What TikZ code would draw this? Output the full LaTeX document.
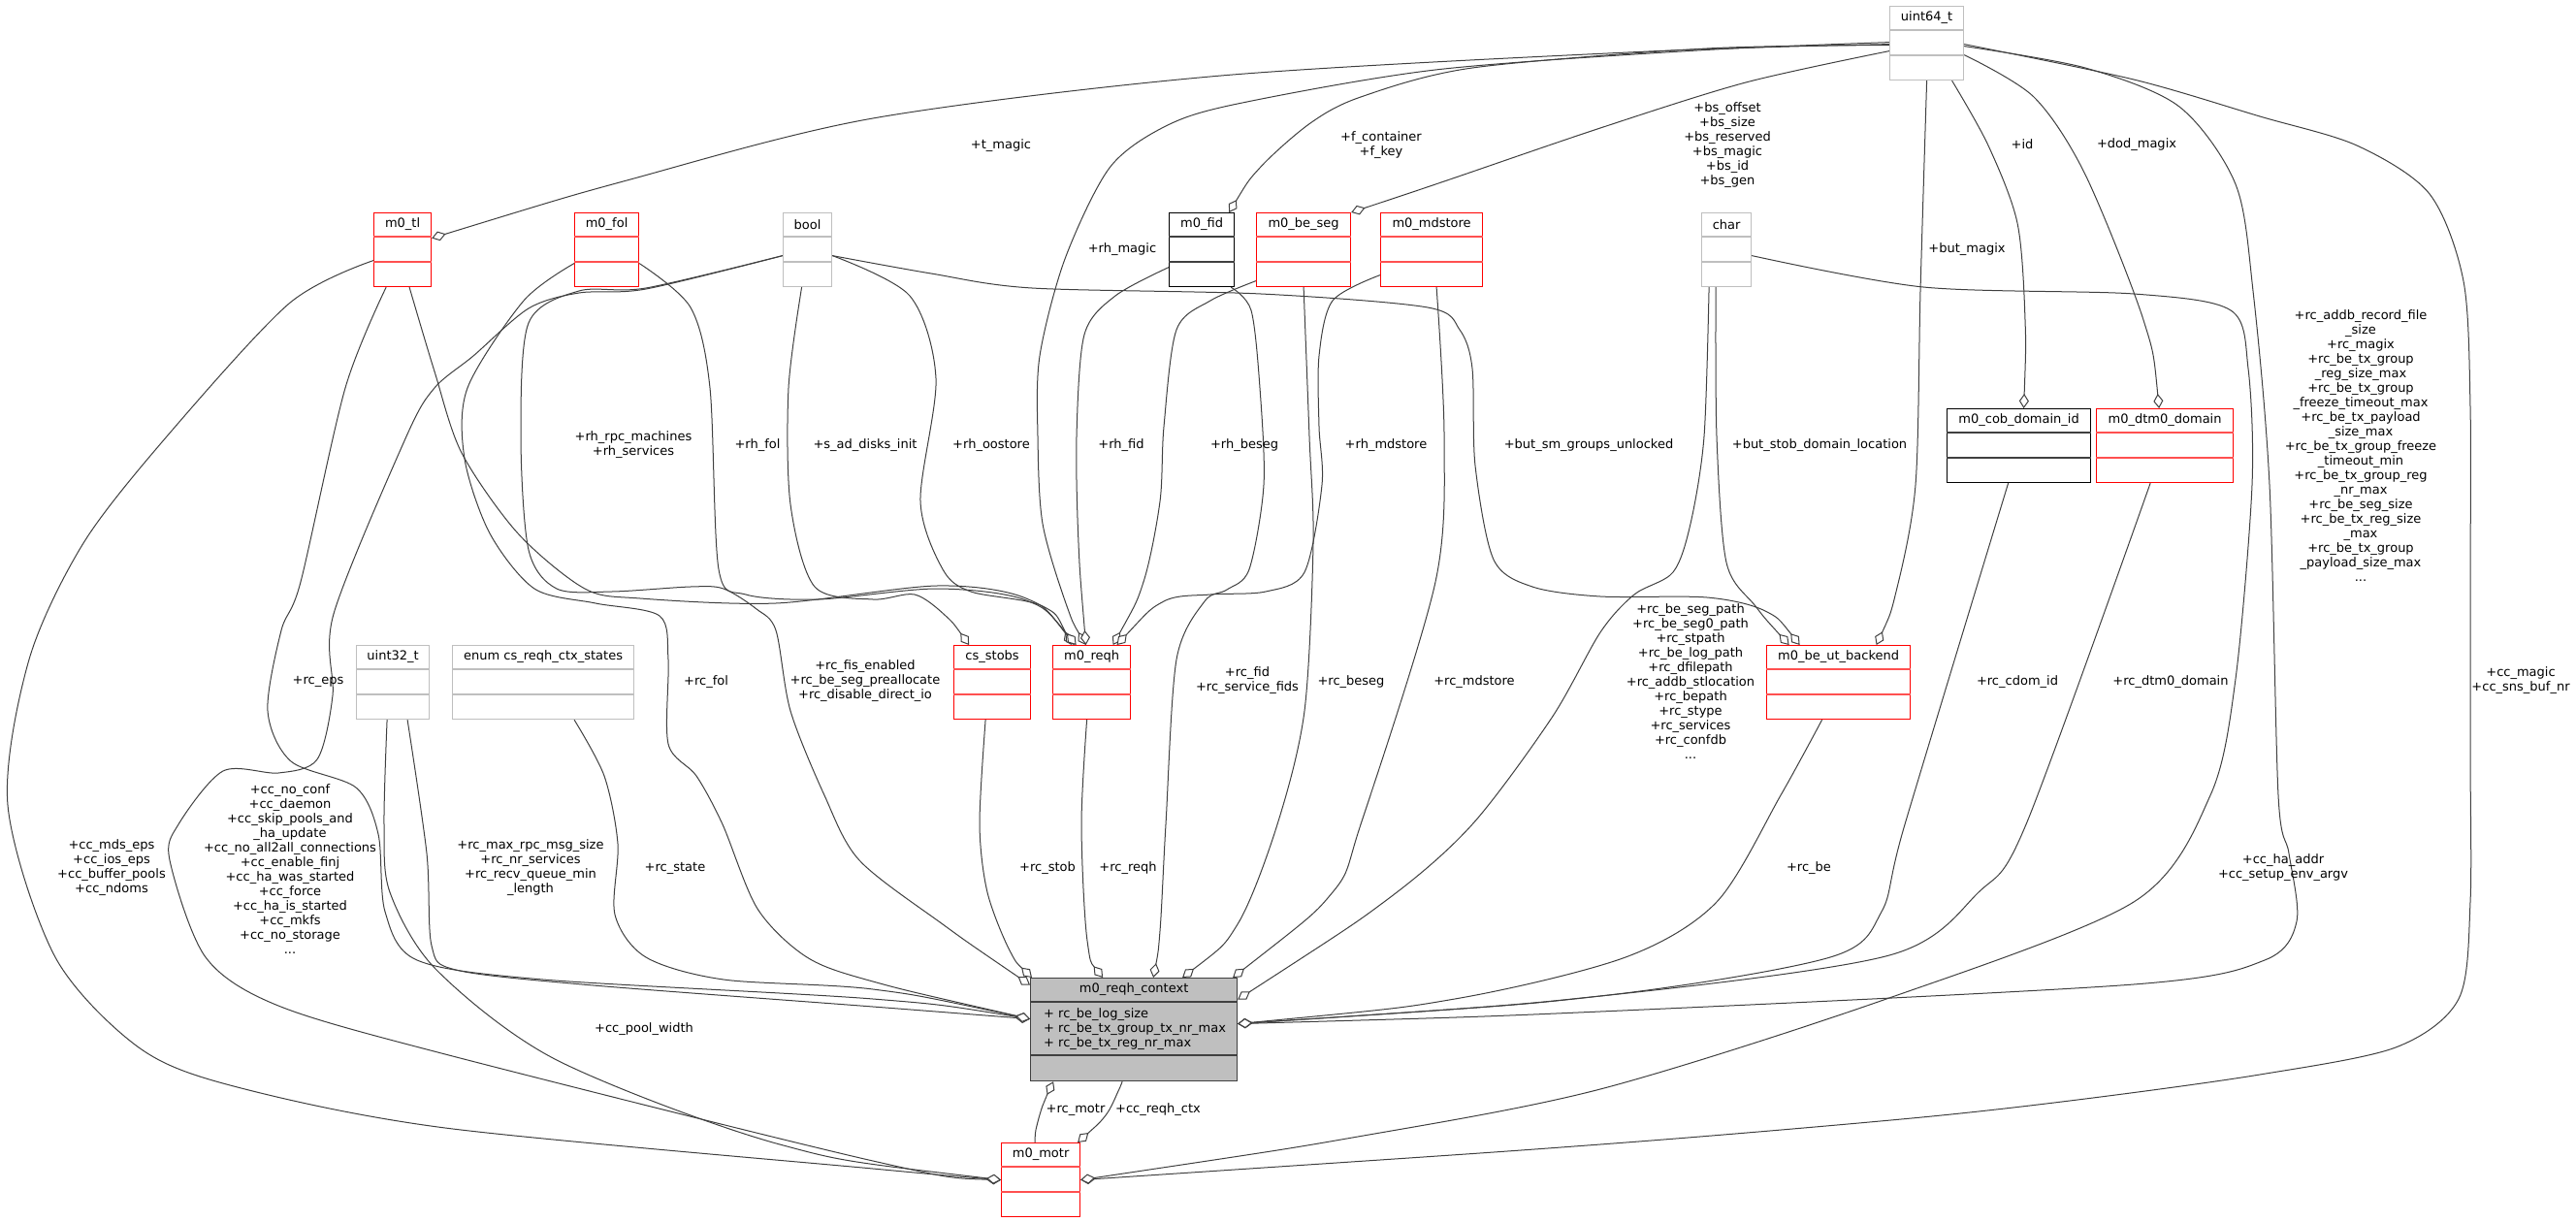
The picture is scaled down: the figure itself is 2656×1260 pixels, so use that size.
\documentclass[tikz,border=0pt]{standalone}
\usepackage{fontspec}
\setmainfont{DejaVu Sans}
\usetikzlibrary{arrows.meta,backgrounds}

\definecolor{edgecol}{HTML}{404040}
\definecolor{umlred}{HTML}{FF0000}
\definecolor{umlredrule}{HTML}{FF5050}
\definecolor{umlgray}{HTML}{BFBFBF}
\definecolor{ctxfill}{HTML}{BFBFBF}

\tikzset{
  redbox/.style={draw=umlred, fill=white, line width=1.2pt, inner sep=0pt},
  redbox rule/.style={draw=umlredrule, line width=1.2pt},
  graybox/.style={draw=umlgray, fill=white, line width=1.2pt, inner sep=0pt},
  graybox rule/.style={draw=umlgray, line width=1.2pt},
  blackbox/.style={draw=black, fill=white, line width=1.2pt, inner sep=0pt},
  blackbox rule/.style={draw=edgecol, line width=1.2pt},
  agg/.style={draw=edgecol, line width=1pt, {Diamond[length=15pt,width=10pt,fill=white]}-},
  lbl/.style={align=center, inner sep=0pt},
}

% class box: style, name, left x, top y, width, title
\newcommand{\umlclass}[6]{%
  \node[#1, minimum width=#5, minimum height=76, anchor=north west] (#2) at (#3,#4) {};
  \node[inner sep=0pt] (#2-name) at ([yshift=-12.5]#2.north) {#6};
  \draw[#1 rule] ([yshift=-25]#2.north west) -- ([yshift=-25]#2.north east);
  \draw[#1 rule] ([yshift=-51]#2.north west) -- ([yshift=-51]#2.north east);
}

\begin{document}
\begin{tikzpicture}[x=1pt, y=-1pt, font=\fontsize{13}{15}\selectfont]
	\useasboundingbox (0,0) rectangle (2656,1260);
	% Klassen
		\umlclass{graybox}{uint64}{1948}{6}{76}{uint64\_t}
		\umlclass{redbox}{tl}{385}{219}{59}{m0\_tl}
		\umlclass{redbox}{fol}{592}{219}{66}{m0\_fol}
		\umlclass{graybox}{bool}{807}{219}{50}{bool}
		\umlclass{blackbox}{fid}{1205}{219}{67}{m0\_fid}
		\umlclass{redbox}{beseg}{1295}{219}{97}{m0\_be\_seg}
		\umlclass{redbox}{mdstore}{1423}{219}{105}{m0\_mdstore}
		\umlclass{graybox}{chr}{1754}{219}{51}{char}
		\umlclass{blackbox}{cobdom}{2007}{421}{148}{m0\_cob\_domain\_id}
		\umlclass{redbox}{dtm0}{2161}{421}{141}{m0\_dtm0\_domain}
		\umlclass{graybox}{uint32}{367}{665}{75}{uint32\_t}
		\umlclass{graybox}{ctxstates}{466}{665}{187}{enum cs\_reqh\_ctx\_states}
		\umlclass{redbox}{stobs}{983}{665}{79}{cs\_stobs}
		\umlclass{redbox}{reqh}{1085}{665}{80}{m0\_reqh}
		\umlclass{redbox}{utbe}{1821}{665}{148}{m0\_be\_ut\_backend}
		\umlclass{redbox}{motr}{1032}{1178}{81}{m0\_motr}
		\node[draw=edgecol, fill=ctxfill, line width=1.2pt, inner sep=0pt, minimum width=213, minimum height=106, anchor=north west] (ctx) at (1062,1008) {};
		\node[inner sep=0pt] (ctx-name) at ([yshift=-12.5]ctx.north) {m0\_reqh\_context};
		\draw[edgecol, line width=1.2pt] ([yshift=-25]ctx.north west) -- ([yshift=-25]ctx.north east);
		\draw[edgecol, line width=1.2pt] ([yshift=-80]ctx.north west) -- ([yshift=-80]ctx.north east);
		\node[lbl, align=left, anchor=west] (ctx-attrs) at (1076,1061) {+ rc\_be\_log\_size\\+ rc\_be\_tx\_group\_tx\_nr\_max\\+ rc\_be\_tx\_reg\_nr\_max};
	% Kanten
	\begin{scope}[on background layer]
		% uint64_t
		\draw[agg] plot[smooth] coordinates {([yshift=12]tl.east) (650,185) (900,122) (1259,78) (1700,53) ([yshift=-1]uint64.west)};
		\draw[agg] plot[smooth] coordinates {([xshift=-6]fid.north east) (1299,173) (1351,127) (1403,100) (1518,70) (1760,50) ([yshift=-2]uint64.west)};
		\draw[agg] plot[smooth] coordinates {(beseg.north east) (1489,187) (1650,132) (1800,85) ([yshift=-8]uint64.west)};
		\draw[agg] plot[smooth] coordinates {([xshift=-6]reqh.north) (1100,625) (1075,540) (1070,450) (1072,367) (1098,267) (1144,173) (1202,130) (1276,107) (1480,72) (1750,52) ([yshift=1]uint64.west)};
		\draw[agg] plot[smooth] coordinates {([xshift=39]utbe.north) (1955,610) (1975,500) (1980,300) (uint64.south)};
		\draw[agg] plot[smooth] coordinates {([xshift=5]cobdom.north) (2088,330) (2080,230) (2050,150) ([xshift=26]uint64.south)};
		\draw[agg] plot[smooth] coordinates {([xshift=-6]dtm0.north) (2210,330) (2150,180) (2097,100) ([yshift=-12]uint64.east)};
		\draw[agg] plot[smooth] coordinates {([yshift=6]ctx.east) (1650,1043) (2200,1015) (2335,990) (2368,950) (2360,880) (2349,820) (2340,500) (2323,300) (2305,190) (2247,110) (2150,70) ([yshift=-3]uint64.east)};
		\draw[agg] plot[smooth] coordinates {(motr.east) (1650,1180) (1971,1153) (2150,1133) (2330,1108) (2470,1080) (2535,1030) (2547,930) (2547,780) (2547,600) (2547,420) (2540,290) (2505,200) (2430,150) (2330,120) (2200,82) ([yshift=-1]uint64.east)};
		% char
		\draw[agg] plot[smooth] coordinates {([yshift=31]ctx.east) (1431,927) (1518,850) (1600,740) (1650,652) (1685,613) (1725,590) (1743,540) (1757,450) ([xshift=-18]chr.south)};
		\draw[agg] plot[smooth] coordinates {([xshift=-51]utbe.north) (1810,625) (1780,580) (1770,450) ([xshift=-11]chr.south)};
		\draw[agg] plot[smooth] coordinates {(motr.east) (1400,1172) (1650,1123) (1945,1030) (2200,930) (2279,820) (2305,700) (2322,500) (2318,380) (2300,320) (2200,303) (1983,296) ([yshift=-6]chr.east)};
		% bool
		\draw[agg] plot[smooth] coordinates {([xshift=-40]utbe.north) (1820,630) (1760,616) (1650,615) (1580,605) (1540,577) (1521,480) (1518,380) (1505,340) (1472,317) (1300,303) (1064,297) (960,282) ([yshift=-6]bool.east)};
		\draw[agg] plot[smooth] coordinates {([xshift=-21]reqh.north) (1075,625) (1001,610) (972,587) (949,517) (965,390) (938,305) ([yshift=-6]bool.east)};
		\draw[agg] plot[smooth] coordinates {([xshift=-24]stobs.north) (975,635) (943,613) (900,618) (840,605) (815,520) (813,400) ([xshift=-6]bool.south)};
		\draw[agg] plot[smooth] coordinates {([yshift=46]ctx.west) (972,953) (886,887) (850,820) (815,733) (800,650) (780,628) (746,607) (712,605) (631,610) (574,607) (545,567) (537,450) (545,333) (597,300) (666,297) ([yshift=-6]bool.west)};
		\draw[agg] plot[smooth] coordinates {(motr.west) (900,1197) (459,1087) (287,1037) (212,987) (175,887) (184,850) (230,795) (287,797) (327,783) (343,717) (344,633) (419,450) (448,400) (488,367) (545,318) (597,302) (666,298) ([yshift=-6]bool.west)};
		% m0_tl
		\draw[agg] plot[smooth] coordinates {(motr.west) (900,1205) (459,1163) (241,1120) (143,1080) (57,987) (8,830) (30,680) (86,560) (172,450) (298,313) ([yshift=-11]tl.west)};
		\draw[agg] plot[smooth] coordinates {([yshift=11]ctx.west) (900,1030) (560,1010) (430,990) (397,940) (390,860) (367,812) (300,785) (276,733) (290,650) (310,600) (356,400) ([xshift=-17]tl.south)};
		\draw[agg] plot[smooth] coordinates {([xshift=-18]reqh.north) (1058,617) (966,604) (800,622) (660,617) (603,607) (534,550) (476,467) (448,383) ([xshift=7]tl.south)};
		% m0_fol
		\draw[agg] plot[smooth] coordinates {([xshift=-16]reqh.north) (1058,619) (966,607) (844,618) (769,613) (741,587) (732,400) (712,317) ([yshift=-14]fol.east)};
		\draw[agg] plot[smooth] coordinates {([yshift=11]ctx.west) (900,1012) (832,987) (781,937) (745,850) (718,800) (689,767) (689,680) (680,635) (614,622) (551,607) (505,550) (479,473) (482,400) (540,310) ([yshift=-14]fol.west)};
		% uint32_t, enum
		\draw[agg] plot[smooth] coordinates {([yshift=11]ctx.west) (900,1038) (600,1015) (470,1000) (445,975) (440,880) ([xshift=15]uint32.south)};
		\draw[agg] plot[smooth] coordinates {(motr.west) (804,1180) (574,1093) (450,1000) (402,920) (396,850) ([xshift=-6]uint32.south)};
		\draw[agg] plot[smooth] coordinates {([yshift=11]ctx.west) (900,1020) (746,1010) (666,987) (634,943) (637,870) (623,800) ([xshift=32]ctxstates.south)};
		% cs_stobs, m0_reqh
		\draw[agg] plot[smooth] coordinates {([xshift=2]ctx.north west) (1041,980) (1018,920) (1010,850) ([xshift=-7]stobs.south)};
		\draw[agg] plot[smooth] coordinates {([xshift=-32]ctx.north) (1121,970) (1115,850) ([xshift=-5]reqh.south)};
		% m0_fid, m0_be_seg, m0_mdstore
		\draw[agg] plot[smooth] coordinates {([xshift=-6]reqh.north) (1112,560) (1110,450) (1118,345) (1150,305) ([yshift=-18]fid.west)};
		\draw[agg] plot[smooth] coordinates {([xshift=20]ctx.north) (1196,960) (1202,850) (1213,680) (1242,620) (1265,608) (1288,587) (1303,500) (1299,400) (1290,320) ([xshift=-4]fid.south east)};
		\draw[agg] plot[smooth] coordinates {([xshift=22]reqh.north) (1179,600) (1196,517) (1200,440) (1213,340) (1248,310) ([yshift=-32]beseg.west)};
		\draw[agg] plot[smooth] coordinates {([xshift=50]ctx.north) (1276,953) (1317,850) (1345,733) (1354,560) (1350,450) (beseg.south)};
		\draw[agg] plot[smooth] coordinates {([xshift=26]reqh.north) (1200,620) (1248,613) (1305,610) (1345,590) (1363,500) (1360,440) (1360,367) (1374,310) ([yshift=-26]mdstore.west)};
		\draw[agg] plot[smooth] coordinates {([xshift=102]ctx.north) (1374,920) (1403,850) (1480,600) (1489,450) ([xshift=5]mdstore.south)};
		% m0_be_ut_backend, m0_cob_domain_id, m0_dtm0_domain
		\draw[agg] plot[smooth] coordinates {([yshift=6]ctx.east) (1500,1030) (1676,987) (1770,930) (1836,820) ([xshift=-17]utbe.south)};
		\draw[agg] plot[smooth] coordinates {([yshift=6]ctx.east) (1650,1027) (1887,987) (1940,940) (1964,850) ([xshift=-11]cobdom.south)};
		\draw[agg] plot[smooth] coordinates {([yshift=6]ctx.east) (1650,1027) (1948,985) (2040,920) (2089,850) ([xshift=-15]dtm0.south)};
		% m0_motr <-> m0_reqh_context
		\draw[agg] plot[smooth] coordinates {([xshift=-83]ctx.south) (1075,1140) (1068,1165) ([xshift=-6]motr.north)};
		\draw[agg] plot[smooth] coordinates {([xshift=38]motr.north) (1140,1150) (1153,1125) ([xshift=-12]ctx.south)};
	\end{scope}
	% Beschriftungen
		\node[lbl] (l-tmagic) at (1032,150) {+t\_magic};
		\node[lbl] (l-fkey) at (1424,150) {+f\_container\\+f\_key};
		\node[lbl] (l-bs) at (1781,150) {+bs\_offset\\+bs\_size\\+bs\_reserved\\+bs\_magic\\+bs\_id\\+bs\_gen};
		\node[lbl] (l-rhmagic) at (1157,257) {+rh\_magic};
		\node[lbl] (l-butmagix) at (2028,257) {+but\_magix};
		\node[lbl] (l-id) at (2085,149) {+id};
		\node[lbl] (l-dod) at (2203,149) {+dod\_magix};
		\node[lbl] (l-rcaddb) at (2434,460) {+rc\_addb\_record\_file\\\_size\\+rc\_magix\\+rc\_be\_tx\_group\\\_reg\_size\_max\\+rc\_be\_tx\_group\\\_freeze\_timeout\_max\\+rc\_be\_tx\_payload\\\_size\_max\\+rc\_be\_tx\_group\_freeze\\\_timeout\_min\\+rc\_be\_tx\_group\_reg\\\_nr\_max\\+rc\_be\_seg\_size\\+rc\_be\_tx\_reg\_size\\\_max\\+rc\_be\_tx\_group\\\_payload\_size\_max\\...};
		\node[lbl] (l-ccmagic) at (2599,702) {+cc\_magic\\+cc\_sns\_buf\_nr};
		\node[lbl] (l-ccha) at (2354,895) {+cc\_ha\_addr\\+cc\_setup\_env\_argv};
		\node[lbl] (l-rcbe) at (1865,895) {+rc\_be};
		\node[lbl] (l-cdom) at (2080,703) {+rc\_cdom\_id};
		\node[lbl] (l-dtm0) at (2238,703) {+rc\_dtm0\_domain};
		\node[lbl] (l-rcpath) at (1743,703) {+rc\_be\_seg\_path\\+rc\_be\_seg0\_path\\+rc\_stpath\\+rc\_be\_log\_path\\+rc\_dfilepath\\+rc\_addb\_stlocation\\+rc\_bepath\\+rc\_stype\\+rc\_services\\+rc\_confdb\\...};
		\node[lbl] (l-butsm) at (1638,459) {+but\_sm\_groups\_unlocked};
		\node[lbl] (l-butstob) at (1876,459) {+but\_stob\_domain\_location};
		\node[lbl] (l-rhrpc) at (653,459) {+rh\_rpc\_machines\\+rh\_services};
		\node[lbl] (l-rhfol) at (781,459) {+rh\_fol};
		\node[lbl] (l-sad) at (892,459) {+s\_ad\_disks\_init};
		\node[lbl] (l-oostore) at (1022,459) {+rh\_oostore};
		\node[lbl] (l-rhfid) at (1156,459) {+rh\_fid};
		\node[lbl] (l-rhbeseg) at (1283,459) {+rh\_beseg};
		\node[lbl] (l-rhmd) at (1429,459) {+rh\_mdstore};
		\node[lbl] (l-rceps) at (328,703) {+rc\_eps};
		\node[lbl] (l-rcfol) at (728,703) {+rc\_fol};
		\node[lbl] (l-fis) at (892,702) {+rc\_fis\_enabled\\+rc\_be\_seg\_preallocate\\+rc\_disable\_direct\_io};
		\node[lbl] (l-rcfid) at (1286,702) {+rc\_fid\\+rc\_service\_fids};
		\node[lbl] (l-rcbeseg) at (1393,703) {+rc\_beseg};
		\node[lbl] (l-rcmd) at (1520,703) {+rc\_mdstore};
		\node[lbl] (l-rcstob) at (1080,895) {+rc\_stob};
		\node[lbl] (l-rcreqh) at (1163,895) {+rc\_reqh};
		\node[lbl] (l-rcmax) at (547,895) {+rc\_max\_rpc\_msg\_size\\+rc\_nr\_services\\+rc\_recv\_queue\_min\\\_length};
		\node[lbl] (l-rcstate) at (696,895) {+rc\_state};
		\node[lbl] (l-ccmds) at (115,895) {+cc\_mds\_eps\\+cc\_ios\_eps\\+cc\_buffer\_pools\\+cc\_ndoms};
		\node[lbl] (l-ccno) at (299,896) {+cc\_no\_conf\\+cc\_daemon\\+cc\_skip\_pools\_and\\\_ha\_update\\+cc\_no\_all2all\_connections\\+cc\_enable\_finj\\+cc\_ha\_was\_started\\+cc\_force\\+cc\_ha\_is\_started\\+cc\_mkfs\\+cc\_no\_storage\\...};
		\node[lbl] (l-pool) at (664,1061) {+cc\_pool\_width};
		\node[lbl] (l-rcmotr) at (1109,1144) {+rc\_motr};
		\node[lbl] (l-reqhctx) at (1194,1144) {+cc\_reqh\_ctx};
\end{tikzpicture}
\end{document}
